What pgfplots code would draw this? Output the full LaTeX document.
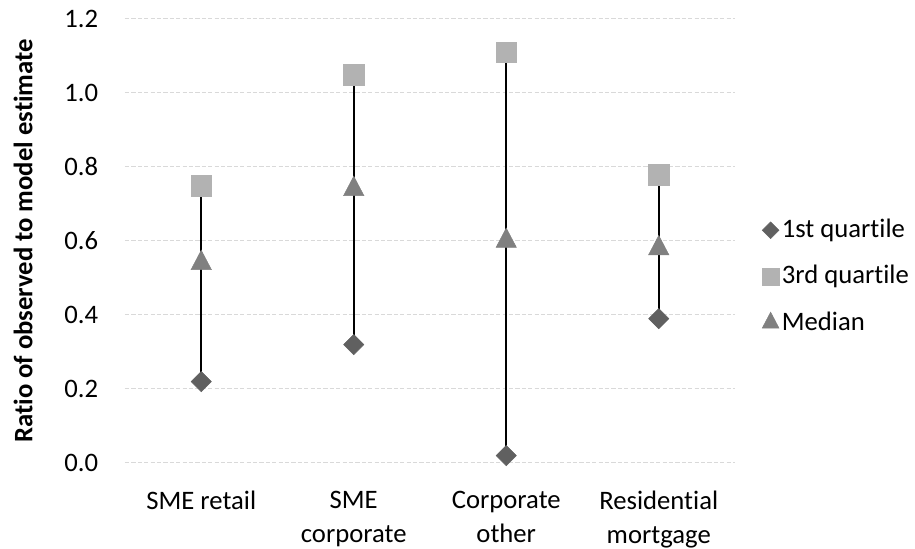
\documentclass[border=0pt]{standalone}
\usepackage{pgfplots}
\pgfplotsset{compat=1.18}
\usepackage{fontspec}
\setmainfont{Carlito}[Ligatures=NoCommon]
\definecolor{qone}{RGB}{96,96,96}
\definecolor{qthree}{RGB}{178,178,178}
\definecolor{qmed}{RGB}{128,128,128}
\definecolor{gridc}{RGB}{217,217,217}
\begin{document}
\fontsize{20}{24}\selectfont
\begin{tikzpicture}[x=0.75pt,y=0.75pt]
\useasboundingbox (-125,-86) rectangle (790,463);
\begin{axis}[
  at={(0,0)}, anchor=south west,
  scale only axis,
  width=457.5pt, height=333pt,
  xmin=-0.5, xmax=3.5, ymin=0, ymax=1.2,
  axis line style={draw=none},
  major tick length=0pt,
  xtick={0,1,2,3},
  xticklabels={SME retail, SME\\corporate, Corporate\\other, Residential\\mortgage},
  xticklabel style={align=center, yshift=-14pt, font=\fontsize{20}{25.5}\selectfont},
  ytick={0,0.2,0.4,0.6,0.8,1.0,1.2},
  /pgf/number format/fixed, /pgf/number format/fixed zerofill, /pgf/number format/precision=1, /pgf/number format/assume math mode=true,
  yticklabel style={xshift=-13.3pt, font=\fontsize{20}{24}\selectfont},
  ymajorgrids,
  grid style={gridc, line width=0.75pt, dash pattern=on 3.2pt off 1.6pt},
  ylabel={\bfseries Ratio of observed to model estimate},
  ylabel style={at={(rel axis cs:-0.1672,0.5)}, anchor=center, font=\fontsize{20}{24}\selectfont},
  legend style={draw=none, fill=none, inner sep=0pt, at={(rel axis cs:1.044,0.42)}, anchor=west, row sep=13.8pt, font=\fontsize{20}{24}\selectfont, nodes={inner sep=2pt}},
  legend cell align=left,
  legend image code/.code={\draw[#1, /tikz/every mark/.append style={scale=0.82}] plot coordinates {(0pt,0pt)};},
  unbounded coords=jump,
]
\addplot[black, line width=1.25pt, forget plot] coordinates {
 (0,0.22) (0,0.75) (0,nan)
 (1,0.32) (1,1.05) (1,nan)
 (2,0.02) (2,1.11) (2,nan)
 (3,0.39) (3,0.78)
};
\addplot[only marks, mark=diamond*, mark size=7.6pt, mark options={fill=qone, draw=qone, xscale=1.33}] coordinates {
 (0,0.22) (1,0.32) (2,0.02) (3,0.39)
};
\addlegendentry{1st quartile}
\addplot[only marks, mark=square*, mark size=7.8pt, mark options={fill=qthree, draw=qthree}] coordinates {
 (0,0.75) (1,1.05) (2,1.11) (3,0.78)
};
\addlegendentry{3rd quartile}
\addplot[only marks, mark=triangle*, mark size=8.8pt, mark options={fill=qmed, draw=qmed, yscale=1.1}] coordinates {
 (0,0.54) (1,0.74) (2,0.60) (3,0.58)
};
\addlegendentry{Median}
\end{axis}
\end{tikzpicture}
\end{document}
